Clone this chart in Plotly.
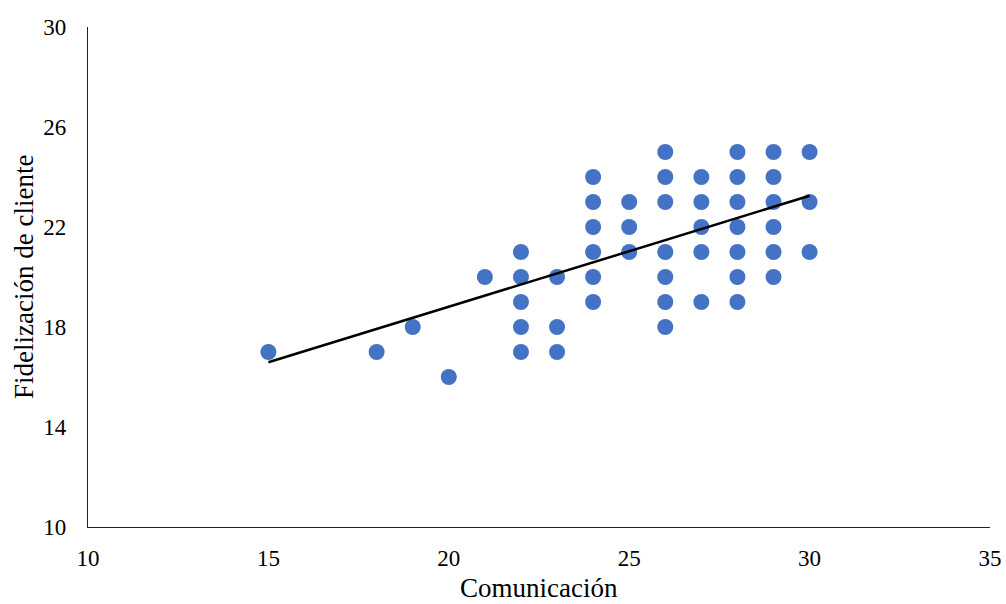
import plotly.graph_objects as go

# Data
comunicacion = [15, 18, 19, 20, 21,
                22, 22, 22, 22, 22,
                23, 23, 23,
                24, 24, 24, 24, 24, 24,
                25, 25, 25,
                26, 26, 26, 26, 26, 26, 26,
                27, 27, 27, 27, 27,
                28, 28, 28, 28, 28, 28, 28,
                29, 29, 29, 29, 29, 29,
                30, 30, 30]
fidelizacion = [17, 17, 18, 16, 20,
                21, 20, 19, 18, 17,
                20, 18, 17,
                24, 23, 22, 21, 20, 19,
                23, 22, 21,
                25, 24, 23, 21, 20, 19, 18,
                24, 23, 22, 21, 19,
                25, 24, 23, 22, 21, 20, 19,
                25, 24, 23, 22, 21, 20,
                25, 23, 21]

# Linear trendline coefficients
trend_slope = 0.444
trend_intercept = 9.93

x_ticks = [10, 15, 20, 25, 30, 35]
y_ticks = [10, 14, 18, 22, 26, 30]
x_title = "Comunicación"
y_title = "Fidelización de cliente"

tx = [min(comunicacion), max(comunicacion)]
ty = [trend_intercept + trend_slope * v for v in tx]

fig = go.Figure()
fig.add_trace(go.Scatter(
    x=comunicacion, y=fidelizacion, mode="markers",
    marker=dict(color="#4472C4", size=16, line=dict(width=0)),
    showlegend=False, hoverinfo="x+y"))
fig.add_trace(go.Scatter(
    x=tx, y=ty, mode="lines",
    line=dict(color="black", width=2.5),
    showlegend=False, hoverinfo="skip"))

font_family = "Liberation Serif, Times New Roman, serif"
fig.update_layout(
    width=1006, height=604,
    margin=dict(l=88, r=16, t=27, b=77),
    paper_bgcolor="white", plot_bgcolor="white",
    font=dict(family=font_family, color="#000000", size=23),
    xaxis=dict(range=[10, 35], tickvals=x_ticks, showgrid=False, zeroline=False,
               showline=True, linecolor="#222222", linewidth=1.3, ticks="",
               ticklabelstandoff=10, automargin=False,
               tickfont=dict(family=font_family, size=23, color="#000")),
    yaxis=dict(range=[10, 30], tickvals=y_ticks, showgrid=False, zeroline=False,
               showline=True, linecolor="#222222", linewidth=1.3, ticks="",
               ticklabelstandoff=16, automargin=False,
               tickfont=dict(family=font_family, size=23, color="#000")),
    annotations=[
        dict(text=x_title, xref="paper", yref="paper", x=0.5, y=0,
             xanchor="center", yanchor="bottom", yshift=-77, borderpad=0,
             showarrow=False,
             font=dict(family=font_family, size=27, color="#000")),
        dict(text=y_title, xref="paper", yref="paper", x=0, y=0.5,
             xanchor="center", yanchor="middle", xshift=-64, textangle=-90,
             showarrow=False,
             font=dict(family=font_family, size=27, color="#000")),
    ],
)

fig.write_html("out.html")
